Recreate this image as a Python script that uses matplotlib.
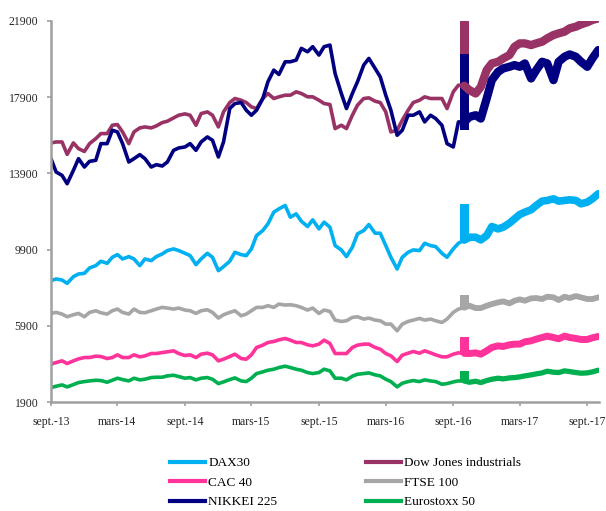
import matplotlib.pyplot as plt
from matplotlib.lines import Line2D
import pandas as pd

plt.rcParams['font.family'] = ['Liberation Serif', 'DejaVu Serif']

# semi-monthly readings, sept. 2013 -> oct. 2017
dates = pd.date_range('2013-09-01', periods=99, freq='SMS')

dax = [8269, 8357, 8304, 8129, 8480, 8620, 8655, 8936, 9059, 9287, 9181, 9497,
       9637, 9409, 9532, 9409, 9059, 9409, 9322, 9532, 9672, 9848, 9936, 9848,
       9707, 9585, 9111, 9409, 9707, 9497, 8795, 9006, 9287, 9760, 9637, 9585,
       9936, 10637, 10900, 11251, 11865, 12040, 12216, 11602, 11777, 11391, 11111, 11462,
       10988, 11339, 11076, 10111, 9883, 9532, 10023, 10725, 10900, 11216, 10760, 10760,
       10111, 9497, 8883, 9497, 9760, 9883, 9848, 10234, 10111, 10058, 9707, 9497,
       9936, 10234, 10400, 10549, 10549, 10409, 10637, 11111, 10988, 11076, 11286, 11514,
       11742, 11865, 11988, 12216, 12444, 12479, 12566, 12444, 12479, 12514, 12479, 12303,
       12391, 12566, 12830]
dow = [15498, 15551, 15551, 14900, 15500, 15200, 15050, 15463, 15726, 15990, 15990, 16428,
       16463, 16077, 15463, 16077, 16288, 16340, 16288, 16393, 16568, 16638, 16814, 16954,
       17024, 16954, 16428, 17042, 17129, 16954, 16340, 17129, 17620, 17831, 17743, 17620,
       17392, 17304, 17831, 18094, 17831, 17919, 18006, 18006, 18182, 18094, 17919, 17919,
       17743, 17568, 17515, 16252, 16428, 16252, 16954, 17480, 17831, 17866, 17690, 17620,
       17129, 16077, 16165, 16691, 17217, 17620, 17743, 17919, 17831, 17831, 17831, 17304,
       18182, 18532, 18500, 18270, 18094, 18445, 19322, 19673, 19760, 19936, 20111, 20550,
       20725, 20725, 20637, 20725, 20813, 20988, 21164, 21251, 21339, 21514, 21602, 21725,
       21830, 21953, 22040]
cac = [3884, 3972, 4060, 3919, 4060, 4165, 4235, 4235, 4305, 4287, 4182, 4235,
       4375, 4235, 4235, 4375, 4270, 4322, 4445, 4445, 4498, 4533, 4586, 4445,
       4340, 4375, 4235, 4410, 4463, 4375, 4060, 4147, 4287, 4410, 4182, 4147,
       4375, 4761, 4884, 5024, 5077, 5164, 5235, 5147, 5024, 5024, 4902, 4849,
       4937, 5147, 4971, 4445, 4445, 4445, 4761, 4884, 4937, 4937, 4761, 4674,
       4445, 4322, 4024, 4358, 4463, 4551, 4463, 4586, 4480, 4375, 4270, 4270,
       4410, 4480, 4450, 4445, 4480, 4410, 4586, 4761, 4849, 4814, 4902, 4937,
       4937, 5059, 5112, 5200, 5287, 5357, 5287, 5217, 5357, 5287, 5235, 5182,
       5182, 5270, 5340]
ftse = [6550, 6603, 6515, 6375, 6480, 6550, 6375, 6603, 6690, 6585, 6515, 6690,
        6778, 6603, 6515, 6778, 6603, 6585, 6690, 6778, 6866, 6831, 6778, 6831,
        6726, 6690, 6550, 6690, 6743, 6603, 6305, 6480, 6603, 6690, 6428, 6515,
        6690, 6866, 6866, 6954, 6866, 7041, 6989, 7006, 6954, 6866, 6726, 6831,
        6550, 6726, 6655, 6199, 6129, 6164, 6340, 6375, 6252, 6305, 6199, 6164,
        5989, 5989, 5638, 5989, 6129, 6199, 6287, 6199, 6252, 6164, 6076, 6252,
        6603, 6778, 6850, 6954, 6831, 6831, 6954, 7041, 7129, 7182, 7076, 7217,
        7287, 7217, 7340, 7357, 7305, 7427, 7392, 7252, 7427, 7357, 7462, 7392,
        7305, 7305, 7392]
nikkei = [14674, 13972, 13797, 13358, 14060, 14674, 14235, 14533, 14586, 15463, 15463, 16165,
          16077, 15463, 14498, 14674, 14884, 14674, 14235, 14358, 14288, 14498, 15112, 15235,
          15288, 15463, 15112, 15551, 15814, 15639, 14762, 15551, 17304, 17567, 17620, 17217,
          16954, 17217, 17831, 18708, 19322, 19094, 19760, 19760, 19848, 20462, 20286, 20550,
          20111, 20550, 20637, 19146, 18094, 17304, 18094, 18708, 19585, 19936, 19410, 18971,
          18006, 17217, 15902, 16165, 16954, 16954, 17129, 16603, 16954, 16779, 16428, 15463,
          15288, 16603, 16600, 16866, 16954, 16779, 17831, 18796, 19234, 19410, 19497, 19585,
          19497, 19673, 18883, 19322, 19760, 19673, 18796, 19760, 20023, 20146, 20023, 19760,
          19497, 19936, 20374]
eurostoxx = [2656, 2727, 2797, 2692, 2814, 2920, 2972, 3007, 3042, 3025, 2937, 3042,
             3148, 3077, 3007, 3148, 3060, 3095, 3183, 3200, 3200, 3270, 3305, 3235,
             3148, 3183, 3060, 3148, 3183, 3095, 2867, 2955, 3077, 3165, 3007, 2972,
             3148, 3393, 3481, 3568, 3621, 3709, 3779, 3709, 3621, 3568, 3446, 3393,
             3446, 3621, 3533, 3148, 3148, 3060, 3253, 3358, 3393, 3428, 3323, 3270,
             3095, 2972, 2692, 2885, 2972, 3025, 2972, 3060, 3007, 2972, 2832, 2867,
             2955, 3007, 3000, 2937, 2990, 2920, 3025, 3095, 3148, 3113, 3165, 3183,
             3218, 3270, 3323, 3376, 3428, 3516, 3463, 3446, 3533, 3498, 3446, 3411,
             3428, 3481, 3568]

# glitch around early oct. 2016: range covered by each series
spike_dates = pd.to_datetime(['2016-09-19', '2016-10-13'])
spike_lo = {'DAX30': 10400, 'Dow Jones industrials': 18500, 'CAC 40': 4400,
            'FTSE 100': 6800, 'NIKKEI 225': 16200, 'Eurostoxx 50': 2950}
spike_hi = {'DAX30': 12300, 'Dow Jones industrials': 22200, 'CAC 40': 5300,
            'FTSE 100': 7500, 'NIKKEI 225': 20150, 'Eurostoxx 50': 3530}

yticks = [1900, 5900, 9900, 13900, 17900, 21900]
xtick_dates = pd.date_range('2013-09-01', '2017-09-01', freq='6MS')
xtick_labels = ['sept.-13', 'mars-14', 'sept.-14', 'mars-15', 'sept.-15',
                'mars-16', 'sept.-16', 'mars-17', 'sept.-17']

# draw order as in the source workbook; last value = width once the data gets noisy
series = [
    ('DAX30', dax, '#00B0F0', 5.5),
    ('Dow Jones industrials', dow, '#993366', 6.0),
    ('CAC 40', cac, '#FF3399', 5.0),
    ('FTSE 100', ftse, '#A6A6A6', 4.2),
    ('NIKKEI 225', nikkei, '#000080', 6.0),
    ('Eurostoxx 50', eurostoxx, '#00B050', 3.8),
]

fig = plt.figure(figsize=(6.06, 5.11), dpi=100)
ax = fig.add_axes([51/606, 109/511, 548/606, 381/511])

split = dates.get_loc(pd.Timestamp('2016-10-01'))
for name, vals, col, lw_late in series:
    ax.plot(dates[:split + 1], vals[:split + 1], color=col, lw=2.6,
            solid_capstyle='round')
    ax.fill_between(spike_dates, spike_lo[name], spike_hi[name], color=col, lw=0)
    ax.plot(dates[split:], vals[split:], color=col, lw=lw_late,
            solid_capstyle='round')

ax.set_ylim(1900, 21900)
ax.set_xlim(pd.Timestamp('2013-09-01'), pd.Timestamp('2017-10-03'))
ax.set_yticks(yticks)
ax.set_yticklabels([str(v) for v in yticks])
ax.set_xticks(xtick_dates)
ax.set_xticklabels(xtick_labels)

for s in ['top', 'right']:
    ax.spines[s].set_visible(False)
for s in ['left', 'bottom']:
    ax.spines[s].set_color('#A0A0A0')
    ax.spines[s].set_linewidth(1.8)
ax.tick_params(axis='both', colors='#A0A0A0', width=1.2, length=3,
               labelcolor='#262626', labelsize=8.5)
ax.tick_params(axis='x', pad=7)
ax.tick_params(axis='y', pad=6)

colors = dict((n, c) for n, v, c, l in series)
order = ['DAX30', 'CAC 40', 'NIKKEI 225', 'Dow Jones industrials', 'FTSE 100', 'Eurostoxx 50']
handles = [Line2D([], [], color=colors[n], lw=3) for n in order]
fig.legend(handles, order, loc='upper left', bbox_to_anchor=(170/606, 1 - 457/511),
           ncol=2, frameon=False, fontsize=9.5, handlelength=2.65, handletextpad=0.25,
           columnspacing=6.7, labelspacing=0.55, borderpad=0, borderaxespad=0)

fig.savefig('out.png', dpi=100)
